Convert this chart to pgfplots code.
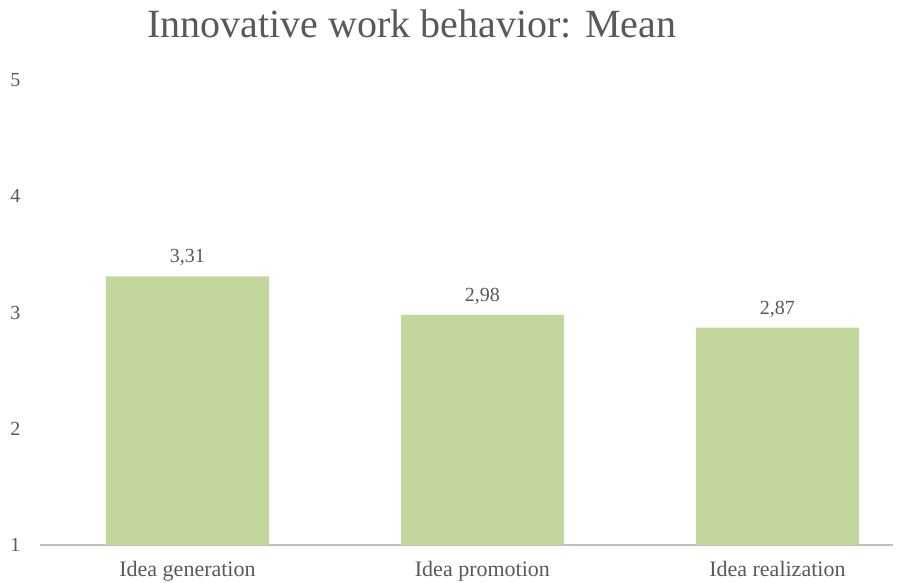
\documentclass[border=0pt]{standalone}
\usepackage{pgfplots}
\pgfplotsset{compat=1.18}
\usepackage{fontspec}
\setmainfont{Liberation Serif}
\definecolor{bargreen}{HTML}{C3D69B}
\definecolor{txtgray}{HTML}{595959}
\definecolor{axgray}{HTML}{BFBFBF}
\begin{document}
\begin{tikzpicture}[x=1pt,y=1pt]
\useasboundingbox (0,0) rectangle (902,583);
\node[txtgray,font=\fontsize{40}{48}\selectfont] at (412,559) {Innovative work behavior: Mean};
\begin{axis}[
  at={(40pt,38pt)}, anchor=south west,
  scale only axis, width=853pt, height=465pt,
  xmin=-0.5, xmax=2.392, ymin=1, ymax=5,
  axis lines=left,
  x axis line style={axgray, line width=2.5pt, -},
  y axis line style={draw=none},
  ytick={1,2,3,4,5},
  xtick={0,1,2},
  xticklabels={Idea generation, Idea promotion, Idea realization},
  major tick length=0pt,
  tick style={draw=none},
  clip=false,
  /pgf/number format/assume math mode=true,
  ticklabel style={txtgray},
  xticklabel style={font=\fontsize{22}{26}\selectfont, yshift=-13pt},
  yticklabel style={font=\fontsize{20}{24}\selectfont, xshift=-16pt},
]
\addplot[ybar, bar width=0.553, fill=bargreen, draw=none,
  point meta=explicit symbolic,
  nodes near coords,
  every node near coord/.append style={txtgray, font=\fontsize{20}{24}\selectfont, yshift=7pt}]
  coordinates {(0,3.31) [{3,31}] (1,2.98) [{2,98}] (2,2.87) [{2,87}]};
\end{axis}
\end{tikzpicture}
\end{document}
